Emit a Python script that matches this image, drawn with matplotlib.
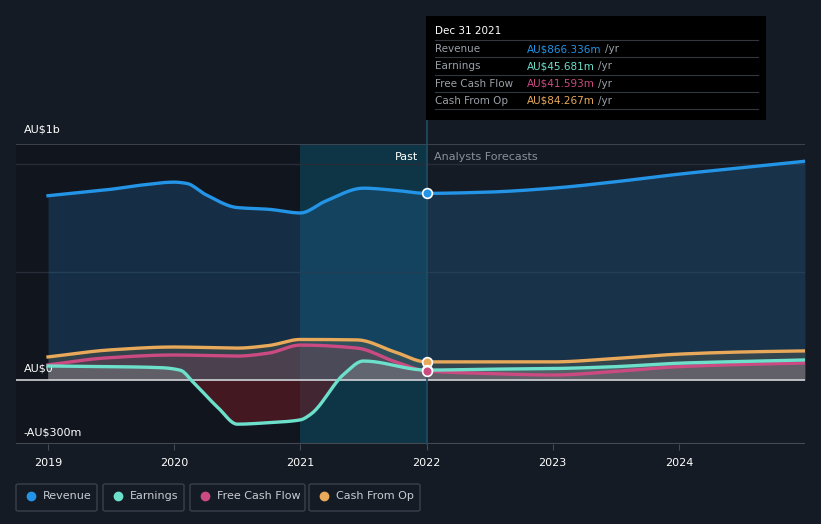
import matplotlib.pyplot as plt
from matplotlib.patches import Rectangle, FancyBboxPatch
from matplotlib.text import Annotation
import numpy as np

# values in AU$ millions
rev_x = [2019.0, 2019.5, 2019.75, 2020.0, 2020.1, 2020.25, 2020.5, 2020.75, 2021.0, 2021.2, 2021.5, 2021.75, 2022.0,
         2022.5, 2023.0, 2023.5, 2024.0, 2024.5, 2025.0]
revenue = [855, 885, 905, 918, 912, 860, 800, 792, 775, 830, 890, 880, 866,
           872, 890, 920, 955, 985, 1015]

earn_x = [2019.0, 2019.5, 2019.9, 2020.05, 2020.15, 2020.35, 2020.5, 2020.75, 2021.0, 2021.08, 2021.35, 2021.5, 2022.0,
          2022.5, 2023.0, 2023.5, 2024.0, 2024.5, 2025.0]
earnings = [65, 62, 57, 45, -10, -130, -205, -198, -185, -160, 30, 88, 46,
            50, 53, 62, 78, 86, 93]

fcf_x = [2019.0, 2019.45, 2020.0, 2020.5, 2020.75, 2021.0, 2021.45, 2021.75, 2022.0,
         2022.5, 2023.0, 2023.5, 2024.0, 2024.5, 2025.0]
fcf = [70, 102, 116, 111, 125, 162, 148, 85, 42,
       30, 23, 40, 62, 72, 79]

cfo_x = [2019.0, 2019.5, 2020.0, 2020.5, 2020.75, 2021.0, 2021.45, 2021.75, 2022.0,
         2022.5, 2023.0, 2023.5, 2024.0, 2024.5, 2025.0]
cfo = [107, 140, 153, 148, 160, 188, 186, 130, 84,
       84, 84, 100, 120, 130, 135]

years = [2019, 2020, 2021, 2022, 2023, 2024]

BG = '#151b25'
C_REV = '#2394e6'
C_EARN = '#6ce0cb'
C_FCF = '#cc4a82'
C_CFO = '#e8a95a'


def smooth(xs, ys, n=12):
    # monotone cubic (Fritsch-Carlson) curve through the points, for drawing only
    x = np.asarray(xs, float)
    y = np.asarray(ys, float)
    h = np.diff(x)
    d = np.diff(y) / h
    m = np.zeros_like(y)
    m[0], m[-1] = d[0], d[-1]
    for i in range(1, len(y) - 1):
        if d[i - 1] * d[i] > 0:
            w1 = 2 * h[i] + h[i - 1]
            w2 = h[i] + 2 * h[i - 1]
            m[i] = (w1 + w2) / (w1 / d[i - 1] + w2 / d[i])
    px, py = [], []
    for i in range(len(h)):
        t = np.linspace(0, 1, n, endpoint=False)
        h00 = 2 * t**3 - 3 * t**2 + 1
        h10 = t**3 - 2 * t**2 + t
        h01 = -2 * t**3 + 3 * t**2
        h11 = t**3 - t**2
        px.extend(x[i] + t * h[i])
        py.extend(h00 * y[i] + h10 * h[i] * m[i] + h01 * y[i + 1] + h11 * h[i] * m[i + 1])
    px.append(x[-1])
    py.append(y[-1])
    return np.array(px), np.array(py)


fig = plt.figure(figsize=(8.21, 5.24), dpi=100, facecolor=BG)
ax = fig.add_axes([16 / 821, 1 - 444 / 524, 789 / 821, 300 / 524])
ax.set_facecolor(BG)
ax.set_xlim(2018.746, 2025.0)
ax.set_ylim(-297, 1095)

# shaded zones
ax.axvspan(2018.746, 2021.0, color='#0e1117', alpha=0.55, lw=0, zorder=0)
ax.axvspan(2021.0, 2022.0, color='#0a4c60', alpha=0.55, lw=0, zorder=0)

# grid lines
for v in [500, 1000]:
    ax.axhline(v, color='#262d38', lw=1, zorder=1)
ax.axhline(1095, color='#444a55', lw=1.2, zorder=1)
ax.axhline(-297, color='#444a55', lw=1.5, zorder=1)

rx, ry = smooth(rev_x, revenue)
ex, ey = smooth(earn_x, earnings)
fx, fy = smooth(fcf_x, fcf)
cx, cy = smooth(cfo_x, cfo)

# fills
ax.fill_between(rx, ry, 0, color='#1f5f92', alpha=0.35, lw=0, zorder=2)
ax.fill_between(cx, cy, 0, color='#6b6a55', alpha=0.35, lw=0, zorder=2)
ax.fill_between(fx, fy, 0, color='#7a3f55', alpha=0.35, lw=0, zorder=2)
ax.fill_between(ex, ey, 0, where=ey >= 0, interpolate=True, color='#8a9a9a', alpha=0.35, lw=0, zorder=2)
ax.fill_between(ex, ey, 0, where=ey < 0, interpolate=True, color='#6e1c24', alpha=0.55, lw=0, zorder=2)

ax.axhline(0, color='#d0d3d8', lw=1.2, zorder=3)

# lines
ax.plot(rx, ry, color=C_REV, lw=2.4, zorder=5)
ax.plot(cx, cy, color=C_CFO, lw=2.4, zorder=5)
ax.plot(fx, fy, color=C_FCF, lw=2.4, zorder=5)
ax.plot(ex, ey, color=C_EARN, lw=2.4, zorder=6)

# vertical marker line at the current date
ax.plot([2022, 2022], [-297, 1207], color='#1f4e63', lw=1.2, clip_on=False, zorder=4)

for v, c in [(revenue[rev_x.index(2022.0)], C_REV), (cfo[cfo_x.index(2022.0)], C_CFO),
             (earnings[earn_x.index(2022.0)], C_EARN), (fcf[fcf_x.index(2022.0)], C_FCF)]:
    ax.plot(2022, v, 'o', ms=7, color=c, mec='white', mew=1.2, zorder=8)

# axes cosmetics
for s in ax.spines.values():
    s.set_visible(False)
ax.set_yticks([])
ax.set_xticks(years)
ax.set_xticklabels([str(y) for y in years], color='white', fontsize=8)
ax.tick_params(axis='x', length=4, color='#444a55', pad=6)

# y labels
ax.text(2018.805, 1095 + 45, 'AU$1b', color='white', fontsize=8, va='bottom', ha='left')
ax.text(2018.805, 28, 'AU$0', color='white', fontsize=8, va='bottom', ha='left')
ax.text(2018.805, -268, '-AU$300m', color='white', fontsize=8, va='bottom', ha='left')

ax.text(2021.93, 1035, 'Past', color='white', fontsize=8, ha='right', va='center')
ax.text(2022.06, 1035, 'Analysts Forecasts', color='#8a9099', fontsize=8, ha='left', va='center')

# tooltip box
W, H = 821, 524
fig.patches.append(Rectangle((426 / W, 1 - 120 / H), 340 / W, 104 / H, transform=fig.transFigure,
                             facecolor='black', edgecolor='none', zorder=10))
fig.text(435 / W, 1 - 31 / H, 'Dec 31 2021', color='white', fontsize=7.5, va='center', zorder=11)
rows = [('Revenue', 'AU$866.336m', C_REV), ('Earnings', 'AU$45.681m', C_EARN),
        ('Free Cash Flow', 'AU$41.593m', C_FCF), ('Cash From Op', 'AU$84.267m', C_CFO)]
for i, (lab, val, col) in enumerate(rows):
    yy = 49 + i * 17.3
    fig.add_artist(plt.Line2D([435 / W, 758 / W], [1 - (yy - 9) / H] * 2, color='#33373d', lw=0.8, zorder=11))
    fig.text(435 / W, 1 - yy / H, lab, color='#9aa0a8', fontsize=7.5, va='center', zorder=11)
    t = fig.text(527 / W, 1 - yy / H, val, color=col, fontsize=7.5, va='center', zorder=11)
    fig.add_artist(Annotation('/yr', xy=(1, 0.5), xycoords=t, xytext=(2.5, 0), textcoords='offset points',
                              color='#9aa0a8', fontsize=7.5, va='center', ha='left', zorder=12))
fig.add_artist(plt.Line2D([435 / W, 758 / W], [1 - (49 + 4 * 17.3 - 9) / H] * 2, color='#33373d', lw=0.8, zorder=11))

# legend boxes
items = [('Revenue', C_REV, 16, 97), ('Earnings', C_EARN, 103, 184),
         ('Free Cash Flow', C_FCF, 190, 305), ('Cash From Op', C_CFO, 309, 420)]
for lab, col, x0, x1 in items:
    fig.patches.append(FancyBboxPatch((x0 / W, 1 - 511 / H), (x1 - x0) / W, 27 / H,
                                      boxstyle='round,pad=0,rounding_size=0.003', transform=fig.transFigure,
                                      facecolor=BG, edgecolor='#3b414c', lw=1))
    fig.add_artist(plt.Line2D([(x0 + 15) / W], [1 - 496 / H], marker='o', ms=6, color=col, mec=col))
    fig.text((x0 + 27) / W, 1 - 496 / H, lab, color='#c8ccd2', fontsize=8, va='center')

fig.savefig('out.png', dpi=100, facecolor=BG)
